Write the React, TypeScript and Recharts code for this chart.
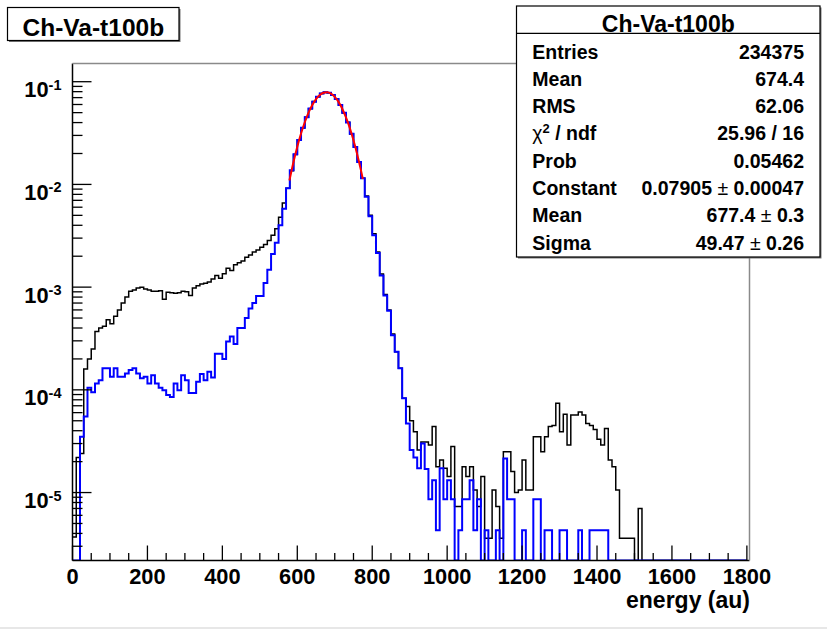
import React from "react";
import { LineChart, Line, XAxis, YAxis } from "recharts";

// ROOT-style histogram, bins of 10 energy units, log y scale
const BIN_WIDTH = 10;

// black histogram (all events), per bin starting at 0
const blackHist = [
  3.7e-6, 2.2e-5, 2.4e-5, 1.6e-4, 2.0e-4, 2.5e-4, 3.7e-4, 4.0e-4, 4.15e-4, 4.8e-4,
  4.4e-4, 5.2e-4, 6.0e-4, 7.0e-4, 8.0e-4, 9.1e-4, 9.4e-4, 9.8e-4, 1.0e-3, 9.6e-4,
  9.4e-4, 9.1e-4, 9.1e-4, 9.2e-4, 7.6e-4, 8.9e-4, 8.8e-4, 8.7e-4, 8.8e-4, 9.1e-4,
  9.0e-4, 8.3e-4, 9.8e-4, 1.03e-3, 1.07e-3, 1.09e-3, 1.12e-3, 1.2e-3, 1.3e-3, 1.22e-3,
  1.35e-3, 1.53e-3, 1.45e-3, 1.65e-3, 1.73e-3, 1.8e-3, 1.95e-3, 2.05e-3, 2.2e-3, 2.3e-3,
  2.45e-3, 2.6e-3, 2.85e-3, 3.2e-3, 3.7e-3, 4.8e-3, 6.6e-3, 9.2e-3, 0.0136, 0.0196,
  0.027, 0.0355, 0.0452, 0.0546, 0.064, 0.0712, 0.0768, 0.079, 0.078, 0.0745,
  0.0674, 0.0594, 0.0496, 0.0403, 0.031, 0.0232, 0.0165, 0.0115, 7.7e-3, 5.0e-3,
  3.3e-3, 2.2e-3, 1.34e-3, 8.5e-4, 6.0e-4, 3.5e-4, 2.35e-4, 1.62e-4, 8.3e-5, 6.9e-5,
  5.0e-5, 3.9e-5, 2.6e-5, 3.1e-5, 3.1e-5, 2.9e-5, 4.4e-5, 1.78e-5, 2.07e-5, 1.72e-5,
  1.43e-5, 2.8e-5, 7.3e-6, 7.3e-6, 1.78e-5, 1.43e-5, 1.78e-5, 1.06e-5, 7.3e-6, 1.43e-5,
  3.6e-6, 3.6e-6, 1.06e-5, 7.3e-6, 3.6e-6, 2.5e-5, 2.5e-5, 1.6e-5, 1.0e-5, 1.06e-5,
  2.07e-5, 1.06e-5, 1.06e-5, 3.5e-5, 3.5e-5, 2.5e-5, 3.5e-5, 4.4e-5, 4.5e-5, 7.4e-5,
  3.9e-5, 5.8e-5, 2.9e-5, 5.7e-5, 5.7e-5, 6.1e-5, 5.7e-5, 4.7e-5, 4.5e-5, 4.1e-5,
  3.3e-5, 2.9e-5, 4.2e-5, 2.07e-5, 1.78e-5, 1.06e-5, 3.6e-6, 3.6e-6, 3.6e-6, 3.6e-6,
  0, 7.0e-6, 0, 0, 0, 0, 0, 0, 0, 0,
  0, 0, 0, 0, 0, 0, 0, 0, 0, 0,
  0, 0, 0, 0, 0, 0, 0, 0, 0, 0,
];

// blue histogram (selected events)
const blueHist = [
  0, 0, 3.5e-5, 5.5e-5, 1.05e-4, 9.5e-5, 1.15e-4, 1.24e-4, 1.62e-4, 1.62e-4,
  1.34e-4, 1.62e-4, 1.34e-4, 1.34e-4, 1.44e-4, 1.56e-4, 1.62e-4, 1.44e-4, 1.3e-4, 1.34e-4,
  1.15e-4, 1.39e-4, 1.15e-4, 1.05e-4, 9.9e-5, 8.9e-5, 8.5e-5, 1.15e-4, 9.9e-5, 1.39e-4,
  1.24e-4, 9.3e-5, 9.3e-5, 1.2e-4, 1.43e-4, 1.24e-4, 1.5e-4, 1.32e-4, 2.25e-4, 2.25e-4,
  2.0e-4, 2.95e-4, 3.3e-4, 2.8e-4, 4.0e-4, 4.0e-4, 5.0e-4, 6.2e-4, 7.0e-4, 8.2e-4,
  8.2e-4, 1.1e-3, 1.48e-3, 2.1e-3, 2.7e-3, 4.0e-3, 5.8e-3, 9.2e-3, 0.0137, 0.0197,
  0.0271, 0.0357, 0.0451, 0.0547, 0.0638, 0.0713, 0.0766, 0.0789, 0.0781, 0.0742,
  0.0677, 0.0592, 0.0498, 0.0401, 0.0311, 0.0231, 0.0165, 0.0115, 7.6e-3, 4.9e-3,
  3.2e-3, 2.15e-3, 1.3e-3, 8.3e-4, 5.9e-4, 3.4e-4, 2.35e-4, 1.62e-4, 8.3e-5, 4.7e-5,
  2.6e-5, 2.2e-5, 1.72e-5, 3.0e-5, 1.7e-5, 8.6e-6, 1.32e-5, 4.3e-6, 1.72e-5, 8.6e-6,
  1.32e-5, 8.6e-6, 0, 4.3e-6, 8.6e-6, 8.6e-6, 1.32e-5, 4.3e-6, 8.6e-6, 0,
  4.3e-6, 0, 0, 4.3e-6, 0, 2.15e-5, 8.6e-6, 8.6e-6, 0, 0,
  4.3e-6, 0, 0, 8.6e-6, 8.6e-6, 0, 4.3e-6, 4.3e-6, 0, 0,
  4.3e-6, 4.3e-6, 0, 0, 0, 4.3e-6, 0, 0, 4.3e-6, 4.3e-6,
  4.3e-6, 4.3e-6, 4.3e-6, 0, 0, 0, 0, 0, 0, 0,
  0, 0, 0, 0, 0, 0, 0, 0, 0, 0,
  0, 0, 0, 0, 0, 0, 0, 0, 0, 0,
  0, 0, 0, 0, 0, 0, 0, 0, 0, 0,
];

// gaussian fit curve
const fitX = [579, 590, 600, 610, 620, 630, 640, 650, 660, 670, 680, 690, 700, 710, 720, 730, 740, 750, 760, 770, 775];
const fitY = [
  0.0109, 0.0166, 0.0233, 0.0313, 0.0403, 0.05, 0.0594, 0.0678, 0.0743, 0.0782, 0.0789,
  0.0765, 0.0712, 0.0636, 0.0546, 0.0449, 0.0355, 0.0269, 0.0196, 0.0137, 0.0113,
];

const xTicks = [
  0, 50, 100, 150, 200, 250, 300, 350, 400, 450, 500, 550, 600, 650, 700, 750, 800, 850, 900,
  950, 1000, 1050, 1100, 1150, 1200, 1250, 1300, 1350, 1400, 1450, 1500, 1550, 1600, 1650,
  1700, 1750, 1800,
];
const decades = [1e-6, 1e-5, 1e-4, 1e-3, 1e-2, 1e-1];
const minorSteps = [1, 2, 3, 4, 5, 6, 7, 8, 9];

const statsRows = [
  ["Entries", "234375"],
  ["Mean", "674.4"],
  ["RMS", "62.06"],
  ["CHI", "25.96 / 16"],
  ["Prob", "0.05462"],
  ["Constant", "0.07905 \u00b1 0.00047"],
  ["Mean", "677.4 \u00b1 0.3"],
  ["Sigma", "49.47 \u00b1 0.26"],
];

const Y_MIN = 2.18e-6;
const Y_MAX = 0.1504;
const X_MAX = 1807;
const FONT = "'Liberation Sans', Arial, Helvetica, sans-serif";

const W = 827;
const H = 629;
const PLOT = { left: 72.5, top: 63.5, right: 749.5, bottom: 560.5 };

const yTicks = decades
  .flatMap((d) => minorSteps.map((m) => m * d))
  .filter((v) => v >= Y_MIN && v <= Y_MAX);

function histPoints(values: number[]) {
  const pts = values.map((v, i) => ({ x: i * BIN_WIDTH, y: v > 0 ? v : Y_MIN }));
  pts.push({ x: values.length * BIN_WIDTH, y: pts[pts.length - 1].y });
  return pts;
}

const blackData = histPoints(blackHist);
const blueData = histPoints(blueHist);
const fitData = fitX.map((x, i) => ({ x, y: fitY[i] }));

const XTick = (props: any) => {
  const { x, y, payload } = props;
  const major = payload.value % 200 === 0;
  return (
    <g>
      <line x1={x} y1={y} x2={x} y2={y - (major ? 15 : 7.5)} stroke="#000" strokeWidth={1.3} />
      {major && (
        <text x={x} y={y + 23} textAnchor="middle" fontSize={21.8} fontWeight="bold" fontFamily={FONT} fill="#000">
          {payload.value}
        </text>
      )}
    </g>
  );
};

const YTick = (props: any) => {
  const { x, y, payload } = props;
  const e = Math.log10(payload.value);
  const major = Math.abs(e - Math.round(e)) < 1e-6;
  return (
    <g>
      <line x1={x} y1={y} x2={x + (major ? 19 : 10)} y2={y} stroke="#000" strokeWidth={1.3} />
      {major && (
        <text x={x - 11} y={y + 15.5} textAnchor="end" fontSize={21.8} fontWeight="bold" fontFamily={FONT} fill="#000">
          10
          <tspan fontSize={14.5} dy={-7.5}>
            {Math.round(e)}
          </tspan>
        </text>
      )}
    </g>
  );
};

export default function App() {
  const rowY = (i: number) => 58.5 + i * 27.3;
  return (
    <div style={{ position: "absolute", left: 0, top: 0, width: W, height: H, background: "#fff" }}>
      <LineChart
        width={W}
        height={H}
        margin={{ top: PLOT.top, right: W - PLOT.right, bottom: 0, left: 0 }}
      >
        <XAxis
          type="number"
          dataKey="x"
          domain={[0, X_MAX]}
          allowDataOverflow
          ticks={xTicks}
          interval={0}
          tick={<XTick />}
          tickLine={false}
          tickSize={0}
          tickMargin={0}
          height={H - PLOT.bottom}
          axisLine={{ stroke: "#000", strokeWidth: 1.5 }}
        />
        <YAxis
          type="number"
          dataKey="y"
          scale="log"
          domain={[Y_MIN, Y_MAX]}
          allowDataOverflow
          ticks={yTicks}
          interval={0}
          tick={<YTick />}
          tickLine={false}
          tickSize={0}
          tickMargin={0}
          width={PLOT.left}
          axisLine={{ stroke: "#000", strokeWidth: 1.5 }}
        />
        <Line data={blackData} dataKey="y" type="stepAfter" stroke="#000" strokeWidth={1.5} dot={false} isAnimationActive={false} />
        <Line data={blueData} dataKey="y" type="stepAfter" stroke="#0000ff" strokeWidth={2} dot={false} isAnimationActive={false} />
        <Line data={fitData} dataKey="y" type="monotone" stroke="#ff0000" strokeWidth={2} dot={false} isAnimationActive={false} />
      </LineChart>

      <svg width={W} height={H} style={{ position: "absolute", left: 0, top: 0, pointerEvents: "none" }} fontFamily={FONT}>
        {/* frame top and right */}
        <line x1={PLOT.left} y1={PLOT.top} x2={PLOT.right} y2={PLOT.top} stroke="#8a8a8a" strokeWidth={1.5} />
        <line x1={PLOT.right} y1={PLOT.top} x2={PLOT.right} y2={PLOT.bottom} stroke="#8a8a8a" strokeWidth={1.5} />

        {/* title box */}
        <rect x={9} y={9} width={171.5} height={33} fill="#777" />
        <rect x={7.5} y={7.5} width={171.5} height={33} fill="#fff" stroke="#000" strokeWidth={1.2} />
        <text x={93.3} y={36} textAnchor="middle" fontSize={24.5} fontWeight="bold">
          Ch-Va-t100b
        </text>

        {/* stats box */}
        <rect x={518} y={7.5} width={303.5} height={251} fill="#777" />
        <rect x={516.5} y={6} width={303.5} height={251} fill="#fff" stroke="#000" strokeWidth={1.2} />
        <line x1={516.5} y1={33.3} x2={820} y2={33.3} stroke="#000" strokeWidth={1.2} />
        <text x={668.3} y={31.5} textAnchor="middle" fontSize={23} fontWeight="bold">
          Ch-Va-t100b
        </text>
        {statsRows.map(([label, value], i) => (
          <g key={i} fontSize={19.5} fontWeight="bold">
            {label === "CHI" ? (
              <text x={532.3} y={rowY(i)}>
                <tspan fontWeight="normal">χ</tspan>
                <tspan fontSize={13} dy={-7}>2</tspan>
                <tspan dy={7}> / ndf</tspan>
              </text>
            ) : (
              <text x={532.3} y={rowY(i)}>{label}</text>
            )}
            <text x={804} y={rowY(i)} textAnchor="end">
              {value.split("\u00b1").map((part, j) =>
                j === 0 ? (
                  <tspan key={j}>{part}</tspan>
                ) : (
                  <React.Fragment key={j}>
                    <tspan fontWeight="normal">{"\u00b1"}</tspan>
                    <tspan>{part}</tspan>
                  </React.Fragment>
                )
              )}
            </text>
          </g>
        ))}

        {/* axis title */}
        <text x={750} y={608} textAnchor="end" fontSize={23} fontWeight="bold">
          energy (au)
        </text>

        <line x1={0} y1={628} x2={W} y2={628} stroke="#cfcfcf" strokeWidth={1} />
      </svg>
    </div>
  );
}
